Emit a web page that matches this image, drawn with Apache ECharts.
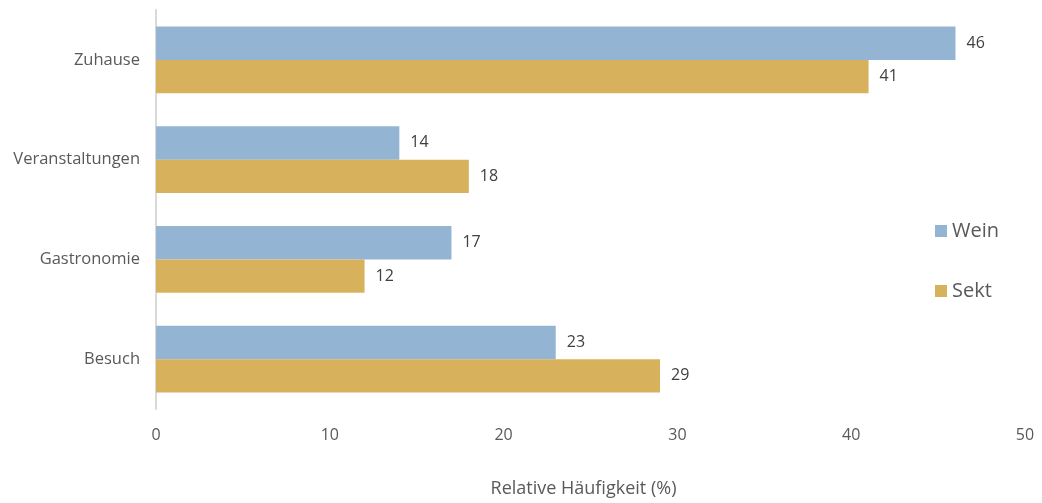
<!DOCTYPE html>
<html><head><meta charset="utf-8">
<script src="https://cdn.jsdelivr.net/npm/echarts@6/dist/echarts.min.js"></script>
<style>html,body{margin:0;padding:0;background:#fff}#c{width:1042px;height:503px}</style>
</head><body><div id="c"></div>
<script>
const categories = ['Zuhause', 'Veranstaltungen', 'Gastronomie', 'Besuch'];
const wein = [46, 14, 17, 23];
const sekt = [41, 18, 12, 29];
const xTicks = [0, 10, 20, 30, 40, 50];

const font = 'Open Sans';
const chart = echarts.init(document.getElementById('c'), null, {renderer: 'canvas'});
chart.setOption({
  animation: false,
  textStyle: {fontFamily: font},
  grid: {left: 156, right: 17, top: 10, bottom: 93, containLabel: false},
  legend: {
    orient: 'vertical', left: 930, top: 216, itemGap: 40,
    itemWidth: 12, itemHeight: 12, icon: 'rect',
    textStyle: {fontSize: 20, color: '#595959', fontFamily: font},
    data: ['Wein', 'Sekt']
  },
  xAxis: {
    type: 'value', min: xTicks[0], max: xTicks[xTicks.length - 1], interval: 10,
    name: 'Relative Häufigkeit (%)', nameLocation: 'middle', nameGap: 71,
    nameTextStyle: {fontSize: 18, color: '#595959', fontFamily: font, padding: [0, 14, 0, 0]},
    axisLine: {show: false}, axisTick: {show: false}, splitLine: {show: false},
    axisLabel: {fontSize: 16, color: '#595959', margin: 18, fontFamily: font}
  },
  yAxis: {
    type: 'category', data: categories, inverse: true,
    axisLine: {show: true, lineStyle: {color: '#d9d9d9', width: 2}},
    axisTick: {show: false},
    axisLabel: {fontSize: 16.5, color: '#595959', margin: 16, fontFamily: font}
  },
  series: [
    {name: 'Wein', type: 'bar', data: wein, barGap: '0%', barCategoryGap: '33%',
     itemStyle: {color: '#93b4d2'},
     label: {show: true, position: 'right', distance: 11, fontSize: 16, color: '#404040', fontFamily: font}},
    {name: 'Sekt', type: 'bar', data: sekt, barGap: '0%', barCategoryGap: '33%',
     itemStyle: {color: '#d8b15d'},
     label: {show: true, position: 'right', distance: 11, fontSize: 16, color: '#404040', fontFamily: font}}
  ]
});
</script></body></html>
